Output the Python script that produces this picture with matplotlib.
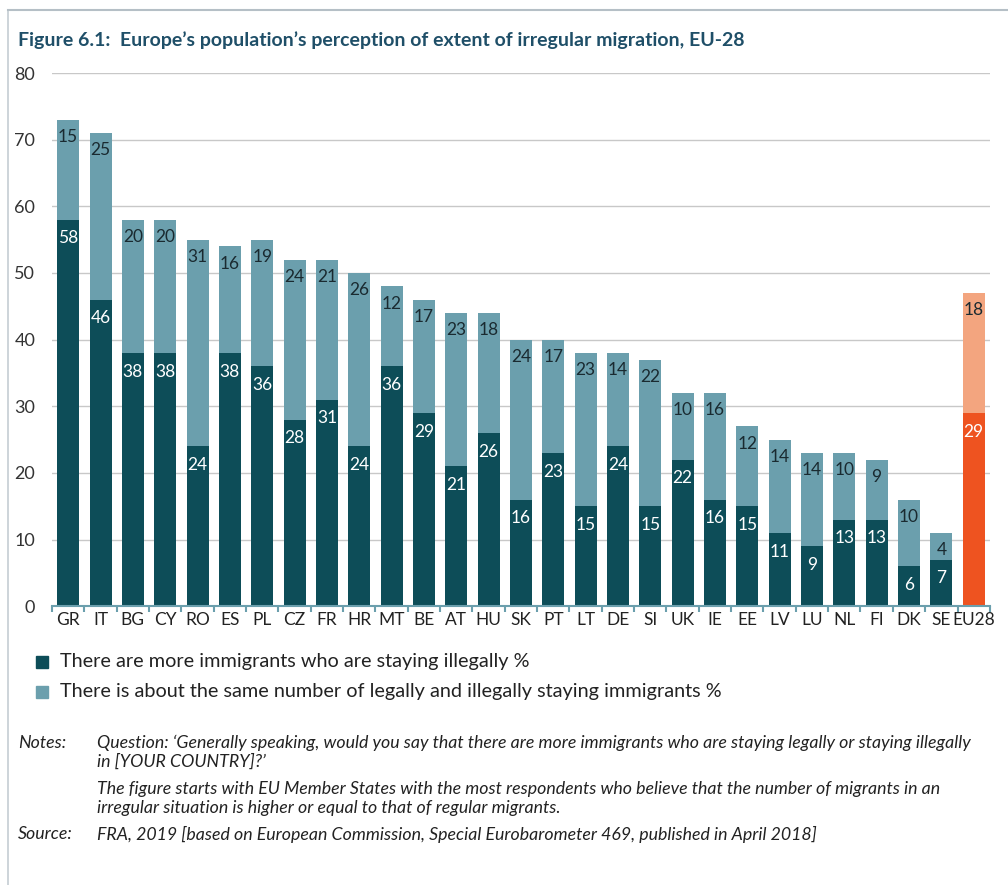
import matplotlib.pyplot as plt
from matplotlib.patches import Rectangle
from matplotlib.lines import Line2D

countries = ['GR', 'IT', 'BG', 'CY', 'RO', 'ES', 'PL', 'CZ', 'FR', 'HR', 'MT', 'BE', 'AT', 'HU',
             'SK', 'PT', 'LT', 'DE', 'SI', 'UK', 'IE', 'EE', 'LV', 'LU', 'NL', 'FI', 'DK', 'SE', 'EU28']
more_illegal = [58, 46, 38, 38, 24, 38, 36, 28, 31, 24, 36, 29, 21, 26,
                16, 23, 15, 24, 15, 22, 16, 15, 11, 9, 13, 13, 6, 7, 29]
same_number = [15, 25, 20, 20, 31, 16, 19, 24, 21, 26, 12, 17, 23, 18,
               24, 17, 23, 14, 22, 10, 16, 12, 14, 14, 10, 9, 10, 4, 18]
y_ticks = [0, 10, 20, 30, 40, 50, 60, 70, 80]

legend_labels = ['There are more immigrants who are staying illegally %',
                 'There is about the same number of legally and illegally staying immigrants %']

DARK = '#0d4d58'
LIGHT = '#6b9fad'
ORANGE = '#ee5320'
ORANGE_LIGHT = '#f3a57f'
TITLE_COL = '#1f4f68'

plt.rcParams['font.family'] = ['Lato', 'DejaVu Sans']

fig = plt.figure(figsize=(10.08, 8.85), dpi=100)
ax = fig.add_axes([0.0516, 0.315, 0.9304, 0.6025])

x = list(range(len(countries)))
dark_cols = [DARK] * (len(countries) - 1) + [ORANGE]
light_cols = [LIGHT] * (len(countries) - 1) + [ORANGE_LIGHT]
w = 0.68
ax.bar(x, more_illegal, width=w, color=dark_cols, zorder=2)
ax.bar(x, same_number, width=w, bottom=more_illegal, color=light_cols, zorder=2)

for i in x:
    d = more_illegal[i]
    s = same_number[i]
    ax.text(i, d - 2.8, str(d), ha='center', va='center', color='white', fontsize=12.5, zorder=3)
    ax.text(i, d + s - 2.6, str(s), ha='center', va='center', color='#1a2a30', fontsize=12.5, zorder=3)

ax.set_xlim(-0.49, 28.46)
ax.set_ylim(0, 80)
ax.set_yticks(y_ticks)
ax.set_yticklabels([str(v) for v in y_ticks], fontsize=13, color='#333333')
ax.yaxis.grid(True, color='#c8c8c8', lw=1, zorder=0)
ax.tick_params(axis='y', length=0, pad=12)

ax.set_xticks(x)
ax.set_xticklabels(countries, fontsize=12.5, color='#222222')
ax.set_xticks([i + 0.5 for i in range(-1, len(countries))], minor=True)
ax.tick_params(axis='x', which='major', length=0, pad=4)
ax.tick_params(axis='x', which='minor', length=4, color=LIGHT, width=1.5)

for sp in ['top', 'right', 'left']:
    ax.spines[sp].set_visible(False)
ax.spines['bottom'].set_color(LIGHT)
ax.spines['bottom'].set_linewidth(1.5)

fig.text(18 / 1008, 1 - 40 / 885, 'Figure 6.1:  Europe\u2019s population\u2019s perception of extent of irregular migration, EU-28',
         fontsize=14, fontweight='bold', color=TITLE_COL, va='center', ha='left')

for k, (lab, col) in enumerate(zip(legend_labels, [DARK, LIGHT])):
    yy = 1 - (662 + 30 * k) / 885
    fig.patches.append(Rectangle((36 / 1008, yy - 6 / 885), 12 / 1008, 12 / 885,
                                 transform=fig.transFigure, color=col))
    fig.text(60 / 1008, yy, lab, fontsize=14.3, color='#222222', va='center', ha='left')

note_font = dict(fontsize=12.8, style='italic', color='#222222', va='center', ha='left')
fig.text(18 / 1008, 1 - 743 / 885, 'Notes:', **note_font)
fig.text(97 / 1008, 1 - 743 / 885,
         'Question: \u2018Generally speaking, would you say that there are more immigrants who are staying legally or staying illegally',
         **note_font)
fig.text(97 / 1008, 1 - 762 / 885, 'in [YOUR COUNTRY]?\u2019', **note_font)
fig.text(97 / 1008, 1 - 789 / 885,
         'The figure starts with EU Member States with the most respondents who believe that the number of migrants in an',
         **note_font)
fig.text(97 / 1008, 1 - 808 / 885, 'irregular situation is higher or equal to that of regular migrants.', **note_font)
fig.text(18 / 1008, 1 - 834 / 885, 'Source:', **note_font)
fig.text(97 / 1008, 1 - 834 / 885,
         'FRA, 2019 [based on European Commission, Special Eurobarometer 469, published in April 2018]', **note_font)

# frame around the figure
fig.lines.append(Line2D([8 / 1008, 8 / 1008], [0, 1 - 10 / 885], transform=fig.transFigure, color='#c5cdd3', lw=1.2))
fig.lines.append(Line2D([8 / 1008, 1], [1 - 10 / 885, 1 - 10 / 885], transform=fig.transFigure, color='#b5bfc6', lw=1.5))

fig.savefig('out.png', dpi=100)
